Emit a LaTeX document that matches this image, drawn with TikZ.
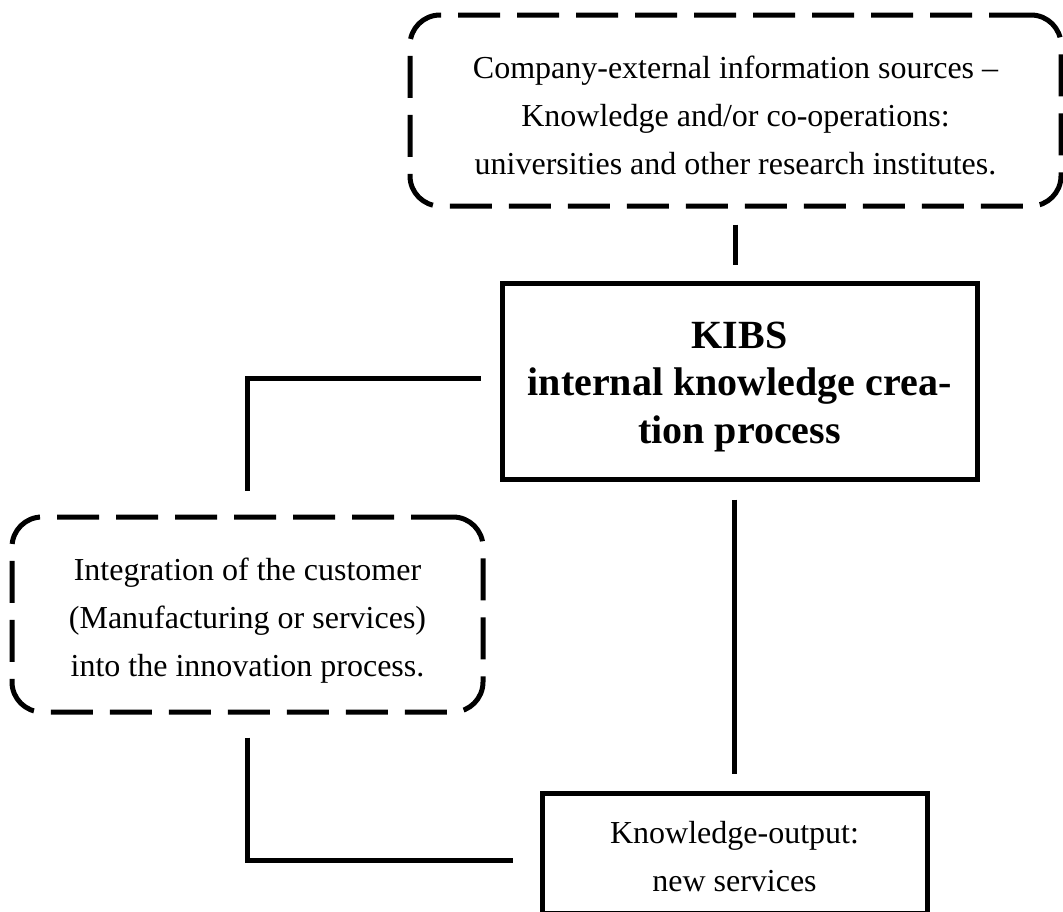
\documentclass[tikz,border=0pt]{standalone}
\usepackage{fontspec}
\setmainfont{Liberation Serif}
\begin{document}
\begin{tikzpicture}[x=1pt,y=-1pt,
  box/.style={draw, line width=5pt, align=center, inner sep=0pt},
  dbox/.style={box, dash pattern=on 42pt off 17pt, rounded corners=30pt},
  conn/.style={line width=5pt},
  reg/.style={font=\fontsize{32}{48}\selectfont},
  bld/.style={font=\fontsize{40}{47.5}\selectfont\bfseries}]
\useasboundingbox (0,0) rectangle (1063,911);
\node[dbox, reg, minimum width=651pt, minimum height=191pt] (ext) at (735.5,110.5)
  {\rule{0pt}{33pt}Company-external information sources –\\Knowledge and/or co-operations:\\universities and other research institutes.};
\node[box, bld, minimum width=475pt, minimum height=196pt] (kibs) at (739.5,381)
  {\rule{0pt}{37.7pt}KIBS\\internal knowledge crea-\\tion process};
\node[dbox, reg, minimum width=471pt, minimum height=195pt] (left) at (247.5,614.5)
  {\rule{0pt}{34pt}Integration of the customer\\(Manufacturing or services)\\into the innovation process.};
\node[box, reg, minimum width=385pt, minimum height=120.5pt] (out) at (734.5,853.25)
  {\rule{0pt}{29.5pt}Knowledge-output:\\new services};
\draw[conn, shorten <=16pt, shorten >=16pt] (ext.south) -- (ext.south |- kibs.north);
\draw[conn, shorten <=19pt, shorten >=24pt] ([yshift=3pt]kibs.west) -| (left.north);
\draw[conn, shorten <=18pt, shorten >=17pt] (kibs.south -| out.north) -- (out.north);
\draw[conn, shorten <=23pt, shorten >=27pt] (left.south) |- ([yshift=-6.75pt]out.west);
\end{tikzpicture}
\end{document}
